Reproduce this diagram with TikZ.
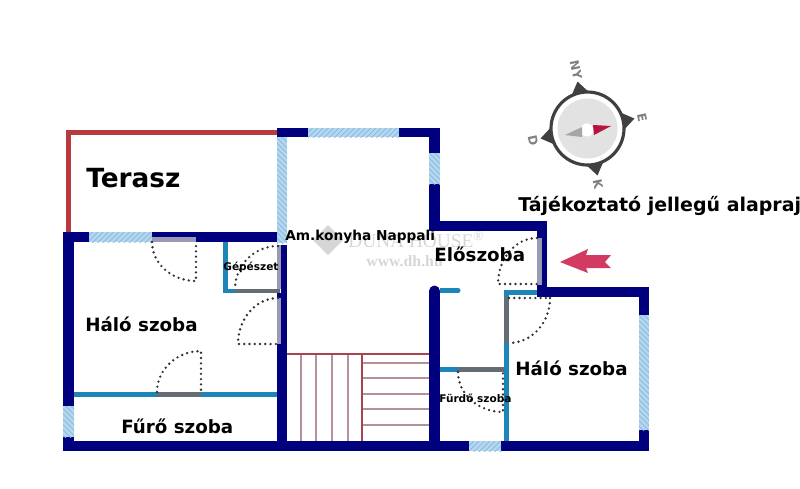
\documentclass[tikz,border=0pt]{standalone}
\usepackage{fontspec}
\setmainfont{DejaVu Sans}
\newfontfamily\wmfont{Liberation Serif}
\usetikzlibrary{patterns}
\definecolor{navywall}{HTML}{00007F}
\definecolor{bluewall}{HTML}{1C86B8}
\definecolor{greydoor}{HTML}{666C74}
\definecolor{paledoor}{HTML}{9A9AB4}
\definecolor{redwall}{HTML}{B93A3C}
\definecolor{winfill}{HTML}{B5D6EE}
\definecolor{winline}{HTML}{7FB9DF}
\definecolor{stairdark}{HTML}{A8454C}
\definecolor{stairpale}{HTML}{B49098}
\definecolor{wmgrey}{HTML}{D6D6D6}
\definecolor{ringgrey}{HTML}{404040}
\definecolor{dialgrey}{HTML}{E2E2E2}
\definecolor{needlered}{HTML}{B8123F}
\definecolor{needlegrey}{HTML}{A6A6A6}
\definecolor{arrowred}{HTML}{D23A62}
\tikzset{
  x=0.02cm,y=-0.02cm,
  navyw/.style={fill=navywall},
  bluew/.style={fill=bluewall},
  greyw/.style={fill=greydoor},
  palew/.style={fill=paledoor},
  winh/.style={fill=winfill,postaction={pattern=north east lines,pattern color=winline}},
  winv/.style={fill=winfill,postaction={pattern=north west lines,pattern color=winline}},
  doorline/.style={draw=black!80,line width=1.5pt,line cap=round,dash pattern=on 0pt off 3pt},
  stairmain/.style={draw=stairdark,line width=0.7pt},
  stairthin/.style={draw=stairpale,line width=0.7pt},
  lbl/.style={anchor=west,inner sep=0pt,font=\bfseries,text=black},
}
\begin{document}
\begin{tikzpicture}
\useasboundingbox (0,0) rectangle (800,488);
\clip (0,0) rectangle (800,488);
% watermark
\fill[wmgrey] (328,225) -- (343,240) -- (328,255) -- (313,240) -- cycle;
\node[anchor=west,inner sep=0pt,text=wmgrey,font=\wmfont\fontsize{11}{11}\selectfont] (wmname) at (348,240) {DUNA HOUSE\textsuperscript{®}};
\node[anchor=west,inner sep=0pt,text=wmgrey,font=\wmfont\bfseries\fontsize{9}{9}\selectfont] (wmurl) at (366,261) {www.dh.hu};
% stairs
\draw[stairthin] (301,354)--(301,441) (316,354)--(316,441) (332,354)--(332,441) (348,354)--(348,441);
\draw[stairthin] (362,363)--(429,363) (362,378)--(429,378) (362,394)--(429,394) (362,409)--(429,409) (362,425)--(429,425);
\draw[stairmain] (287,354)--(429,354) (362,354)--(362,441);
% terrace
\fill[fill=redwall] (66,130) rectangle (277,135);
\fill[fill=redwall] (66,130) rectangle (71,234);
% navy walls
\fill[navyw] (277,128) rectangle (440,137);
\fill[navyw] (429,128) rectangle (440,231);
\fill[navyw] (429,221) rectangle (547,231);
\fill[navyw] (537,221) rectangle (547,297);
\fill[navyw] (537,287) rectangle (649,297);
\fill[navyw] (639,287) rectangle (649,451);
\fill[navyw] (63,441) rectangle (649,451);
\fill[navyw] (63,233) rectangle (74,451);
\fill[navyw] (63,232) rectangle (277,242);
\fill[navyw] (281,245) rectangle (287,345);
\fill[navyw] (277,343) rectangle (287,451);
\fill[navyw] (429,291) rectangle (440,441);
\fill[navyw] (434.5,291) circle[radius=5.5];
% light blue and grey partitions
\fill[bluew] (440,288) rectangle (458,293);
\fill[bluew] (458,290.5) circle[radius=2.5];
\fill[bluew] (504,290) rectangle (537,295);
\fill[bluew] (504,290) rectangle (509,441);
\fill[greyw] (504,297) rectangle (509,343);
\fill[bluew] (440,367) rectangle (458,372);
\fill[greyw] (458,367) rectangle (504,372);
\fill[bluew] (74,392) rectangle (277,397);
\fill[greyw] (157,392) rectangle (201,397);
\fill[bluew] (223,242) rectangle (228,293);
\fill[bluew] (223,289) rectangle (235,293);
\fill[greyw] (235,289) rectangle (280,293);
% door leaves in the walls
\fill[palew] (152,237) rectangle (196,242);
\fill[palew] (277,245) rectangle (281,289);
\fill[palew] (277,297) rectangle (281,344);
\fill[palew] (537,238) rectangle (542,285);
\fill[fill=navywall] (277,293) rectangle (287,298);
% windows
\fill[winh] (308,128) rectangle (399,137);
\fill[winv] (429,153) rectangle (440,184);
\fill[winv] (277,137) rectangle (287,243);
\fill[winh] (89,232) rectangle (152,242);
\fill[winv] (63,406) rectangle (74,437);
\fill[winh] (469,441) rectangle (501,451);
\fill[winv] (639,315) rectangle (649,430);
% door swings
\draw[doorline] (152,242) arc[start angle=180,end angle=270,x radius=.88cm,y radius=.78cm] -- (196,242);
\draw[doorline] (278,246) arc[start angle=90,end angle=180,x radius=.86cm,y radius=.86cm];
\draw[doorline] (278,298) arc[start angle=90,end angle=180,x radius=.80cm,y radius=.92cm] -- (278,344);
\draw[doorline] (157,392) arc[start angle=180,end angle=90,x radius=.88cm,y radius=.82cm] -- (201,392);
\draw[doorline] (537,238) arc[start angle=90,end angle=180,x radius=.78cm,y radius=.92cm] -- (537,284);
\draw[doorline] (550,298) arc[start angle=0,end angle=-90,x radius=.82cm,y radius=.90cm];
\draw[doorline] (509,298) -- (550,298);
\draw[doorline] (458,372) arc[start angle=180,end angle=270,x radius=.90cm,y radius=.80cm] -- (503,372);
% compass
\foreach \a in {12,102,192,282}{
  \fill[fill=ringgrey] ({587.5+48*cos(\a)},{128.5-48*sin(\a)})
    -- ({587.5+35*cos(\a+17)},{128.5-35*sin(\a+17)})
    -- ({587.5+35*cos(\a-17)},{128.5-35*sin(\a-17)}) -- cycle;
}
\fill[fill=white,draw=ringgrey,line width=1.8pt] (587.5,128.5) circle[radius=36.5];
\fill[fill=dialgrey] (587.5,128.5) circle[radius=30];
\fill[fill=white] (587,130) circle[radius=6.5];
\fill[fill=needlered] (611,126) -- (593,125) -- (594,135) -- cycle;
\fill[fill=needlegrey] (565,135) -- (582,127) -- (582,137) -- cycle;
\node[text=black!50,inner sep=0pt,rotate=-78,font=\bfseries\fontsize{7}{7}\selectfont] (cny) at (576,70) {NY};
\node[text=black!50,inner sep=0pt,rotate=-78,font=\bfseries\fontsize{7}{7}\selectfont] (ce) at (642,118) {E};
\node[text=black!50,inner sep=0pt,rotate=-78,font=\bfseries\fontsize{7}{7}\selectfont] (cd) at (533,141) {D};
\node[text=black!50,inner sep=0pt,rotate=-78,font=\bfseries\fontsize{7}{7}\selectfont] (ck) at (598,184) {K};
% entrance arrow
\fill[fill=arrowred] (560,262) -- (588,249) -- (586,255) -- (611,255) -- (605,262) -- (611,268) -- (586,268) -- (588,273) -- cycle;
% labels
\node[lbl,font=\bfseries\fontsize{15}{15}\selectfont] (terasz) at (86,178) {Terasz};
\node[lbl,font=\bfseries\fontsize{10.4}{10.4}\selectfont] (halo1) at (85,324) {Háló szoba};
\node[lbl,font=\bfseries\fontsize{10.4}{10.4}\selectfont] (furo) at (121,426) {Fűrő szoba};
\node[lbl,font=\bfseries\fontsize{10.4}{10.4}\selectfont] (halo2) at (515,368) {Háló szoba};
\node[lbl,font=\bfseries\fontsize{10.4}{10.4}\selectfont] (eloszoba) at (434,254) {Előszoba};
\node[lbl,font=\bfseries\fontsize{7.8}{7.8}\selectfont] (nappali) at (285,237) {Am.konyha Nappali};
\node[lbl,font=\bfseries\fontsize{6}{6}\selectfont] (gepeszet) at (223,267) {Gépészet};
\node[lbl,font=\bfseries\fontsize{6}{6}\selectfont] (furdo) at (439,398) {Fürdő szoba};
\node[lbl,font=\bfseries\fontsize{10.8}{10.8}\selectfont] (tajek) at (518,206) {Tájékoztató jellegű alaprajz};
\end{tikzpicture}
\end{document}
